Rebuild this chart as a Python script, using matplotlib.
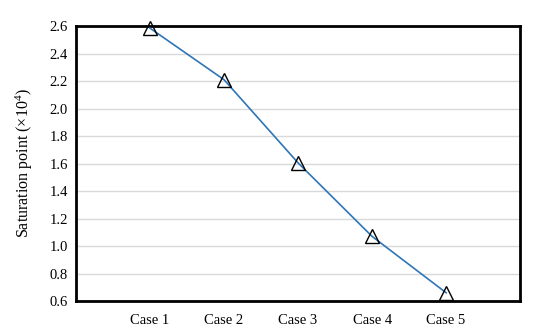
import matplotlib
matplotlib.use("Agg")
import matplotlib.pyplot as plt

categories = ["Case 1", "Case 2", "Case 3", "Case 4", "Case 5"]
values = [2.585, 2.21, 1.605, 1.07, 0.66]
yticks = [0.6, 0.8, 1.0, 1.2, 1.4, 1.6, 1.8, 2.0, 2.2, 2.4, 2.6]

plt.rcParams['font.family'] = ['Liberation Serif', 'DejaVu Serif']
plt.rcParams['mathtext.fontset'] = 'custom'
plt.rcParams['mathtext.rm'] = 'Liberation Serif'
plt.rcParams['mathtext.it'] = 'Liberation Serif:italic'
plt.rcParams['mathtext.default'] = 'rm'

fig = plt.figure(figsize=(5.39, 3.34), dpi=100)
ax = fig.add_axes([0.141, 0.0988, 0.824, 0.823])
x = list(range(1, len(categories) + 1))
ax.plot(x, values, color='#2E75B6', lw=1.2, marker='^', markersize=10,
        markerfacecolor='none', markeredgecolor='black', markeredgewidth=1.0,
        clip_on=False, zorder=3)
ax.set_xlim(0, 6)
ax.set_ylim(0.6, 2.6)
ax.set_xticks(x)
ax.set_xticklabels(categories, fontsize=10.5)
ax.set_yticks(yticks)
ax.set_yticklabels([f"{v:.1f}" for v in yticks], fontsize=10.5)
ax.tick_params(axis='y', length=0, pad=6)
ax.tick_params(axis='x', length=0, pad=9)
ax.yaxis.grid(True, color='#d9d9d9', lw=1)
ax.set_axisbelow(True)
for s in ax.spines.values():
    s.set_linewidth(2)
    s.set_color('black')
ax.set_ylabel("Saturation point (×10$^{4}$)", fontsize=11.5, labelpad=10)
fig.savefig("out.png", dpi=100)
